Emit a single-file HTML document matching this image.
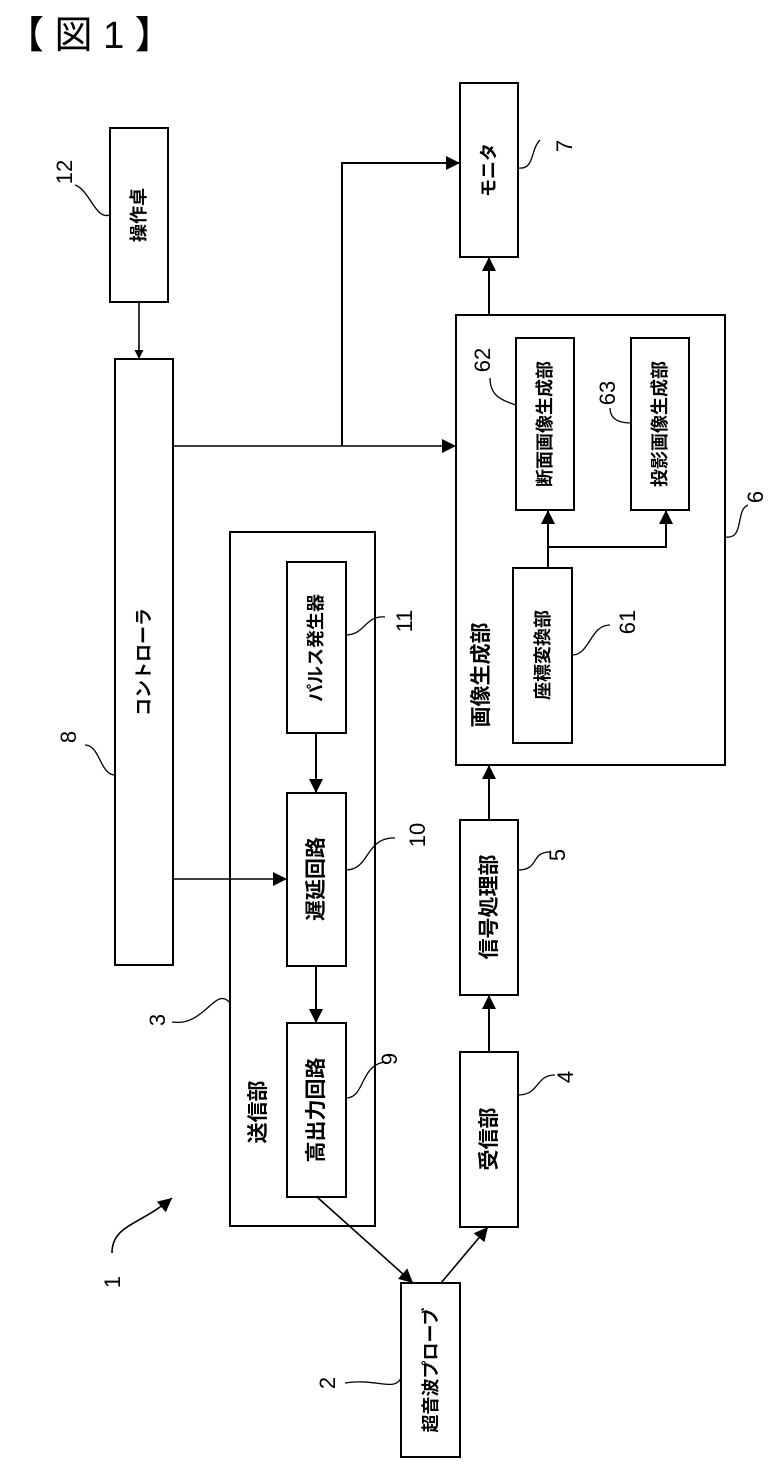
<!DOCTYPE html>
<html><head><meta charset="utf-8"><style>
html,body{margin:0;padding:0;background:#fff}
svg{display:block}
text{font-family:"Liberation Sans","Noto Sans CJK JP",sans-serif;fill:#000}
.b{fill:none;stroke:#000;stroke-width:2}
.l{fill:none;stroke:#000;stroke-width:1.6}
.c{fill:none;stroke:#000;stroke-width:1.3}
.j{font-size:18px;font-weight:bold}
.n{font-size:22px}
</style></head><body>
<svg width="771" height="1473" viewBox="0 0 771 1473" xmlns="http://www.w3.org/2000/svg">
<defs><marker id="a" viewBox="0 0 10 10" refX="10" refY="5" markerWidth="9" markerHeight="9" markerUnits="userSpaceOnUse" orient="auto"><path d="M0,0L10,5L0,10z" fill="#000"/></marker>
<marker id="A" viewBox="0 0 10 10" refX="10" refY="5" markerWidth="14" markerHeight="14" markerUnits="userSpaceOnUse" orient="auto"><path d="M0,0L10,5L0,10z" fill="#000"/></marker></defs>
<text x="6" y="48" font-size="38" font-family="Liberation Sans,Noto Sans CJK JP,sans-serif">【 図 1 】</text>

<rect class="b" x="110" y="128" width="58" height="174"/>
<rect class="b" x="115" y="359" width="58" height="606"/>
<rect class="b" x="230" y="532" width="145" height="694"/>
<rect class="b" x="287" y="562" width="59" height="171"/>
<rect class="b" x="287" y="793" width="59" height="173"/>
<rect class="b" x="287" y="1023" width="59" height="174"/>
<rect class="b" x="401" y="1283" width="59" height="174"/>
<rect class="b" x="460" y="1052" width="58" height="175"/>
<rect class="b" x="460" y="820" width="58" height="175"/>
<rect class="b" x="456" y="315" width="269" height="450"/>
<rect class="b" x="516" y="338" width="58" height="172"/>
<rect class="b" x="631" y="338" width="58" height="172"/>
<rect class="b" x="513" y="568" width="59" height="175"/>
<rect class="b" x="460" y="83" width="58" height="174"/>

<g class="j">
<text transform="translate(145,215) rotate(-90)" text-anchor="middle">操作卓</text>
<text transform="translate(150,662) rotate(-90)" text-anchor="middle">コントローラ</text>
<text transform="translate(322,648) rotate(-90)" text-anchor="middle">パルス発生器</text>
<text transform="translate(323,879) rotate(-90)" text-anchor="middle" font-size="21">遅延回路</text>
<text transform="translate(323,1110) rotate(-90)" text-anchor="middle" font-size="21">高出力回路</text>
<text transform="translate(265,1112) rotate(-90)" text-anchor="middle" font-size="21">送信部</text>
<text transform="translate(437,1370) rotate(-90)" text-anchor="middle">超音波プローブ</text>
<text transform="translate(496,1139) rotate(-90)" text-anchor="middle" font-size="21">受信部</text>
<text transform="translate(496,907) rotate(-90)" text-anchor="middle" font-size="21">信号処理部</text>
<text transform="translate(488,675) rotate(-90)" text-anchor="middle" font-size="21">画像生成部</text>
<text transform="translate(551,424) rotate(-90)" text-anchor="middle">断面画像生成部</text>
<text transform="translate(666,424) rotate(-90)" text-anchor="middle">投影画像生成部</text>
<text transform="translate(549,655) rotate(-90)" text-anchor="middle">座標変換部</text>
<text transform="translate(495,170) rotate(-90)" text-anchor="middle">モニタ</text>
</g>

<path class="l" d="M139,302V359" marker-end="url(#a)"/>
<path class="l" d="M173,446H456" marker-end="url(#A)"/>
<path class="b" d="M342,446V163H460" marker-end="url(#A)"/>
<path class="l" d="M173,879H287" marker-end="url(#A)"/>
<path class="b" d="M316,733V793" marker-end="url(#A)"/>
<path class="b" d="M316,966V1023" marker-end="url(#A)"/>
<path class="l" d="M317,1197L413,1283" marker-end="url(#A)"/>
<path class="l" d="M441,1283L488,1227" marker-end="url(#A)"/>
<path class="b" d="M489,1052V995" marker-end="url(#A)"/>
<path class="b" d="M489,820V765" marker-end="url(#A)"/>
<path class="b" d="M489,315V257" marker-end="url(#A)"/>
<path class="b" d="M548,568V510" marker-end="url(#A)"/>
<path class="b" d="M548,547H666V510" marker-end="url(#A)"/>
<path class="l" d="M112,1253C112,1225 140,1225 172,1198" marker-end="url(#A)"/>

<path class="c" d="M110,215C95,220 90,190 75,185"/>
<path class="c" d="M115,775C100,775 100,745 85,745"/>
<path class="c" d="M230,1003C215,985 205,1027 172,1022"/>
<path class="c" d="M346,635C365,635 365,615 385,617"/>
<path class="c" d="M346,870C370,870 365,837 395,838"/>
<path class="c" d="M346,1098C365,1098 360,1065 385,1062"/>
<path class="c" d="M401,1378C395,1392 375,1378 345,1383"/>
<path class="c" d="M518,1095C540,1095 535,1075 555,1075"/>
<path class="c" d="M518,870C540,870 530,852 550,852"/>
<path class="c" d="M572,655C590,655 590,625 610,625"/>
<path class="c" d="M516,405C500,400 490,395 490,378"/>
<path class="c" d="M631,423C620,423 610,420 610,408"/>
<path class="c" d="M725,537C745,540 735,510 748,505"/>
<path class="c" d="M518,168C535,170 530,150 540,140"/>

<g class="n">
<text transform="translate(72,172) rotate(-90)" text-anchor="middle">12</text>
<text transform="translate(76,737) rotate(-90)" text-anchor="middle">8</text>
<text transform="translate(165,1020) rotate(-90)" text-anchor="middle">3</text>
<text transform="translate(120,1282) rotate(-90)" text-anchor="middle">1</text>
<text transform="translate(335,1383) rotate(-90)" text-anchor="middle">2</text>
<text transform="translate(397,1059) rotate(-90)" text-anchor="middle">9</text>
<text transform="translate(425,835) rotate(-90)" text-anchor="middle">10</text>
<text transform="translate(412,621) rotate(-90)" text-anchor="middle">11</text>
<text transform="translate(573,1077) rotate(-90)" text-anchor="middle">4</text>
<text transform="translate(565,855) rotate(-90)" text-anchor="middle">5</text>
<text transform="translate(635,622) rotate(-90)" text-anchor="middle">61</text>
<text transform="translate(490,360) rotate(-90)" text-anchor="middle">62</text>
<text transform="translate(615,393) rotate(-90)" text-anchor="middle">63</text>
<text transform="translate(763,497) rotate(-90)" text-anchor="middle">6</text>
<text transform="translate(572,146) rotate(-90)" text-anchor="middle">7</text>
</g>
</svg>
</body></html>
